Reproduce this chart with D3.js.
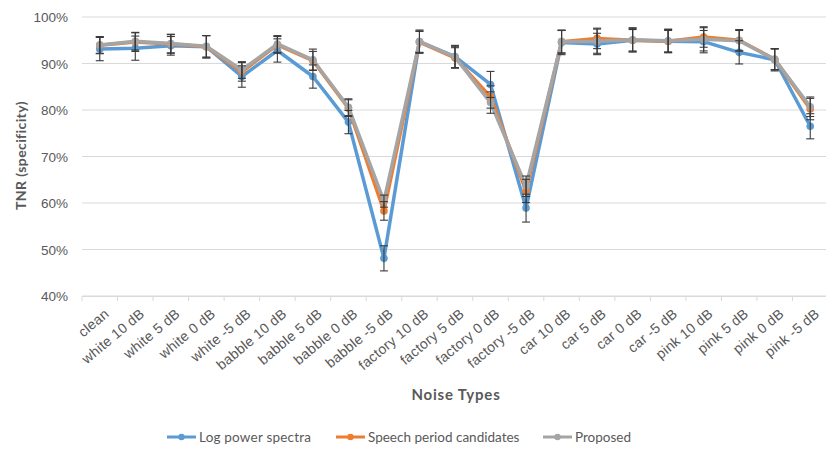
<!DOCTYPE html>
<html>
<head>
<meta charset="utf-8">
<script src="https://cdn.jsdelivr.net/npm/d3@7/dist/d3.min.js"></script>
<style>
  html, body { margin: 0; padding: 0; background: #fff; }
  svg { display: block; font-family: Lato, "Open Sans", sans-serif; }
</style>
</head>
<body>
<svg id="chart" width="826" height="451"></svg>
<script>
// Noise conditions on the x axis
const categories = ["clean", "white 10 dB", "white 5 dB", "white 0 dB", "white -5 dB",
  "babble 10 dB", "babble 5 dB", "babble 0 dB", "babble -5 dB",
  "factory 10 dB", "factory 5 dB", "factory 0 dB", "factory -5 dB",
  "car 10 dB", "car 5 dB", "car 0 dB", "car -5 dB",
  "pink 10 dB", "pink 5 dB", "pink 0 dB", "pink -5 dB"];

// TNR (%) per feature set
const logPowerSpectra = [93.1, 93.3, 93.8, 93.6, 87.2, 92.8, 87.2, 77.4, 48.1, 94.7, 91.5, 85.5, 58.9, 94.5, 94.2, 95.0, 94.8, 94.7, 92.4, 90.8, 76.5];
const speechPeriodCandidates = [93.9, 94.6, 94.2, 93.6, 88.2, 94.0, 90.6, 80.4, 58.3, 94.6, 91.2, 82.8, 62.6, 94.7, 95.4, 95.0, 94.8, 95.7, 95.0, 90.9, 80.2];
const proposed = [94.0, 94.8, 94.3, 93.7, 88.6, 94.2, 90.8, 80.6, 60.4, 94.7, 91.4, 81.6, 63.6, 94.7, 94.8, 95.1, 94.9, 95.2, 94.9, 90.9, 80.7];

// Standard deviations (%) for the error bars
const logPowerSpectraErr = [2.5, 2.6, 2.0, 2.4, 2.3, 2.5, 2.5, 2.5, 2.7, 2.5, 2.4, 2.8, 3.0, 2.6, 2.3, 2.3, 2.3, 2.4, 2.5, 2.4, 2.7];
const speechPeriodCandidatesErr = [1.8, 2.0, 2.0, 2.4, 2.0, 1.8, 2.0, 1.8, 2.0, 2.3, 2.2, 2.4, 2.5, 2.5, 2.2, 2.5, 2.5, 2.2, 2.3, 2.3, 2.3];
const proposedErr = [1.8, 1.9, 2.0, 2.3, 1.8, 1.8, 2.3, 1.8, 1.3, 2.3, 2.3, 2.3, 2.2, 2.4, 2.6, 2.6, 2.5, 2.5, 2.2, 2.2, 2.1];

// Axis ticks
const yTicks = [40, 50, 60, 70, 80, 90, 100];

const seriesNames = ["Log power spectra", "Speech period candidates", "Proposed"];
const seriesColors = ["#5b9bd5", "#ed7d31", "#a5a5a5"];

const series = [
  { name: seriesNames[0], values: logPowerSpectra, err: logPowerSpectraErr, color: seriesColors[0] },
  { name: seriesNames[1], values: speechPeriodCandidates, err: speechPeriodCandidatesErr, color: seriesColors[1] },
  { name: seriesNames[2], values: proposed, err: proposedErr, color: seriesColors[2] }
];

const svg = d3.select("#chart");
const plot = { left: 82, right: 828, top: 17, bottom: 296 };

const x = d3.scalePoint().domain(categories).range([plot.left, plot.right]).padding(0.5);
const y = d3.scaleLinear().domain([40, 100]).range([plot.bottom, plot.top]);

// Horizontal gridlines
svg.append("g")
  .selectAll("line")
  .data(yTicks)
  .join("line")
  .attr("x1", plot.left).attr("x2", plot.right)
  .attr("y1", d => y(d)).attr("y2", d => y(d))
  .attr("stroke", "#d9d9d9").attr("stroke-width", 1);

// Y axis labels
const yAxis = d3.axisLeft(y).tickValues(yTicks).tickSize(0).tickPadding(0).tickFormat(d => d + "%");
svg.append("g")
  .attr("transform", `translate(68,0)`)
  .call(yAxis)
  .call(g => g.select(".domain").remove())
  .call(g => g.selectAll("text")
    .attr("fill", "#595959").attr("font-size", 13.5).attr("dy", "0.35em"));

// X axis: band separators and rotated labels
const step = x.step();
const xAxis = d3.axisBottom(x).tickSize(0).tickPadding(0);
const xg = svg.append("g").attr("transform", `translate(0,${plot.bottom})`).call(xAxis);
xg.select(".domain").attr("stroke", "#d9d9d9");
xg.selectAll(".tick text")
  .attr("fill", "#595959").attr("font-size", 14)
  .attr("letter-spacing", 0.3)
  .attr("text-anchor", "end")
  .attr("dy", "0.35em")
  .attr("transform", "translate(6.5,15.5) rotate(-40)");
xg.append("g").selectAll("line")
  .data(d3.range(categories.length + 1))
  .join("line")
  .attr("x1", i => plot.left + i * step).attr("x2", i => plot.left + i * step)
  .attr("y1", 0).attr("y2", 5)
  .attr("stroke", "#d9d9d9");

// Series lines and markers
const line = d3.line().x((d, i) => x(categories[i])).y(d => y(d));
series.forEach(s => {
  const g = svg.append("g");
  g.append("path")
    .datum(s.values)
    .attr("d", line)
    .attr("fill", "none")
    .attr("stroke", s.color)
    .attr("stroke-width", 3.5)
    .attr("stroke-linejoin", "round");
  g.selectAll("circle")
    .data(s.values)
    .join("circle")
    .attr("cx", (d, i) => x(categories[i]))
    .attr("cy", d => y(d))
    .attr("r", 3.8)
    .attr("fill", s.color);
});

// Error bars
series.forEach(s => {
  const g = svg.append("g").attr("stroke", "#3a3a3a").attr("stroke-width", 1.1);
  s.values.forEach((v, i) => {
    const cx = x(categories[i]);
    const hi = y(v + s.err[i]), lo = y(v - s.err[i]);
    g.append("line").attr("x1", cx).attr("x2", cx).attr("y1", hi).attr("y2", lo);
    g.append("line").attr("x1", cx - 4).attr("x2", cx + 4).attr("y1", hi).attr("y2", hi);
    g.append("line").attr("x1", cx - 4).attr("x2", cx + 4).attr("y1", lo).attr("y2", lo);
  });
});

// Axis titles
svg.append("text")
  .attr("transform", `translate(26,${(plot.top + plot.bottom) / 2 - 1}) rotate(-90)`)
  .attr("text-anchor", "middle")
  .attr("font-size", 14).attr("font-weight", "bold").attr("fill", "#595959")
  .attr("letter-spacing", 0.4)
  .text("TNR (specificity)");

svg.append("text")
  .attr("x", 456).attr("y", 400)
  .attr("text-anchor", "middle")
  .attr("font-size", 15).attr("font-weight", "bold").attr("fill", "#595959")
  .attr("letter-spacing", 0.8)
  .text("Noise Types");

// Legend
const legendX = [167, 336, 543];
const legend = svg.append("g").attr("transform", "translate(0,437)");
series.forEach((s, i) => {
  const g = legend.append("g").attr("transform", `translate(${legendX[i]},0)`);
  g.append("line").attr("x1", 0).attr("x2", 29).attr("y1", 0).attr("y2", 0)
    .attr("stroke", s.color).attr("stroke-width", 3);
  g.append("circle").attr("cx", 14.5).attr("cy", 0).attr("r", 3.2).attr("fill", s.color);
  g.append("text").attr("x", 32).attr("y", 0).attr("dy", "0.35em")
    .attr("font-size", 13.5).attr("fill", "#595959")
    .attr("letter-spacing", i === 0 ? 0.2 : 0)
    .text(s.name);
});
</script>
</body>
</html>
